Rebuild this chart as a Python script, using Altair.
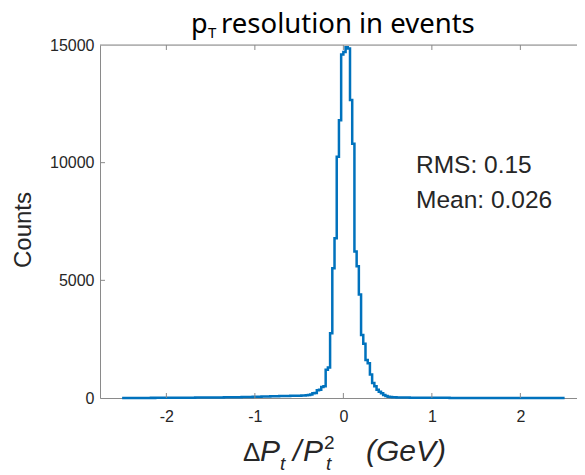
import altair as alt
import pandas as pd

# ---- data ----
x_start = -2.5
bin_width = 0.025
counts_far_left = [2, 3, 2, 3, 3, 4, 3, 4, 4, 5, 4, 5, 5, 6, 5, 6, 6, 7, 7, 8]
counts_left_tail = [8, 9, 9, 10, 10, 11, 11, 12, 12, 13, 14, 14, 15, 16, 16, 17, 18, 19, 19, 20]
counts_left_mid = [21, 22, 23, 24, 25, 26, 27, 29, 30, 31, 33, 34, 36, 37, 39, 41, 43, 45, 47, 49]
counts_left_near = [52, 54, 56, 59, 62, 64, 67, 70, 73, 76, 79, 82, 84, 86, 88, 90, 92, 94, 96, 98]
counts_core = [100, 105, 110, 120, 130, 150, 200, 210, 330, 350, 470, 500, 1200, 1300, 2750,
               5510, 6790, 10250, 11800, 14600, 14700, 14900, 14850, 12660, 10800, 6220, 5600,
               4400, 2680, 2300, 1615, 1475, 1000, 640, 500, 350, 270, 200, 130, 90, 50, 40,
               35, 30, 25]
counts_right_tail = [20, 19, 18, 17, 16, 15, 14, 13, 12, 12, 11, 10, 10, 9, 9,
                     8, 8, 7, 7, 7, 6, 6, 6, 5, 5, 5, 5, 4, 4, 4, 4, 4, 3, 3, 3,
                     3, 3, 3, 3, 3, 2, 2, 2, 2, 2, 2, 2, 2, 2, 2, 2, 1, 1, 1, 1,
                     1, 1, 1, 1, 1, 1, 1, 1, 1, 1, 1, 1, 1, 1, 1, 1, 1, 1, 1, 1]
counts = (counts_far_left + counts_left_tail + counts_left_mid + counts_left_near
          + counts_core + counts_right_tail)

x_ticks = [-2, -1, 0, 1, 2]
y_ticks = [0, 5000, 10000, 15000]
stats_lines = ["RMS: 0.15", "Mean: 0.026"]

# ---- layout ----
W, H = 477, 353
BLUE = "#0072BD"
AX = "#8a8a8a"
TXT = "#262626"

edges = [round(x_start + bin_width * i, 4) for i in range(len(counts) + 1)]
hist = pd.DataFrame({"x": edges, "c": counts + [counts[-1]]})

plain_label = "datum.value < 0 ? '-' + abs(datum.value) : '' + datum.value"
xscale = alt.Scale(domain=[-2.75, 2.64], nice=False, zero=False)
yscale = alt.Scale(domain=[0, 15000], nice=False)
xaxis = alt.Axis(values=x_ticks, title=None, tickSize=0, labelFontSize=16, labelPadding=10,
                 labelColor=TXT, labelFont="Liberation Sans", grid=False, domainColor=AX,
                 labelFlush=False, labelExpr=plain_label)
yaxis = alt.Axis(values=y_ticks, title=None, tickSize=0, labelFontSize=16, labelPadding=6,
                 labelColor=TXT, labelFont="Liberation Sans", grid=False, domainColor=AX,
                 labelFlush=False, labelExpr=plain_label)

line = alt.Chart(hist).mark_line(interpolate="step-after", color=BLUE, strokeWidth=2.5).encode(
    x=alt.X("x:Q", scale=xscale, axis=xaxis),
    y=alt.Y("c:Q", scale=yscale, axis=yaxis),
)

xt = pd.DataFrame({"v": x_ticks})
yt = pd.DataFrame({"v": [5000, 10000]})
tick_bottom = alt.Chart(xt).mark_rule(color=AX).encode(
    x=alt.X("v:Q", scale=xscale, axis=xaxis), y=alt.value(H), y2=alt.value(H - 5))
tick_top = alt.Chart(xt).mark_rule(color=AX).encode(
    x=alt.X("v:Q", scale=xscale, axis=xaxis), y=alt.value(0), y2=alt.value(5))
tick_left = alt.Chart(yt).mark_rule(color=AX).encode(
    y=alt.Y("v:Q", scale=yscale, axis=yaxis), x=alt.value(0), x2=alt.value(5))
top_border = alt.Chart(pd.DataFrame({"a": [0]})).mark_rule(color=AX).encode(
    x=alt.value(0), x2=alt.value(W), y=alt.value(0))


def txt(s, x, y, size, font="Liberation Sans", style="normal", angle=0, align="left",
        baseline="alphabetic", color=TXT):
    kw = dict(fontSize=size, font=font, fontStyle=style, align=align, baseline=baseline,
              color=color)
    if angle:
        kw["angle"] = angle
    return alt.Chart(pd.DataFrame({"t": [s]})).mark_text(**kw).encode(
        x=alt.value(x), y=alt.value(y), text="t:N")


texts = [
    # title
    txt("p", 91, -12, 27, font="Noto Sans", color="#000000"),
    txt("T", 108, -7, 15, font="Noto Sans", color="#000000"),
    txt("resolution in events", 121, -12, 27.5, font="Noto Sans", color="#000000"),
    # stats
    txt(stats_lines[0], 316, 128, 24.5),
    txt(stats_lines[1], 316, 163, 24.5),
    # y title
    txt("Counts", -76, 185, 24, angle=270, align="center", baseline="middle"),
    # x title
    txt("Δ", 143, 416, 26),
    txt("P", 160, 416, 30, style="italic"),
    txt("t", 180, 425, 19, style="italic"),
    txt("/", 193, 416, 30, style="italic"),
    txt("P", 203, 416, 30, style="italic"),
    txt("2", 224, 404, 19),
    txt("t", 226, 425, 19, style="italic"),
    txt("(GeV)", 266, 416, 30, style="italic"),
]

chart = alt.layer(line, tick_bottom, tick_top, tick_left, top_border, *texts).properties(
    width=W, height=H,
    autosize=alt.AutoSizeParams(type="none"),
    padding={"left": 92, "top": 37, "right": 0, "bottom": 77},
).configure_view(stroke=None).configure(background="white")

chart.save("out.html", embed_options={"renderer": "svg", "actions": False})
